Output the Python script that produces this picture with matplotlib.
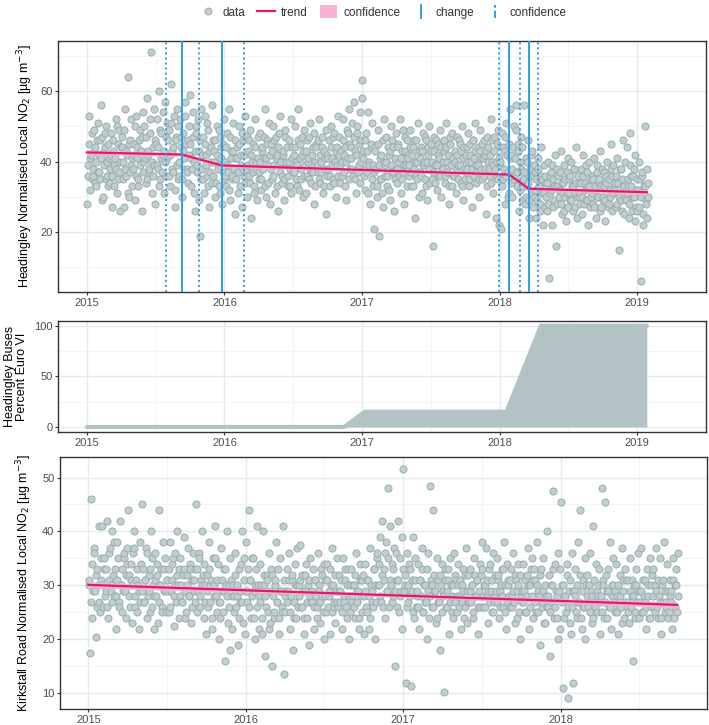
from itertools import zip_longest

import matplotlib
matplotlib.use("Agg")
import matplotlib.pyplot as plt
from matplotlib.legend_handler import HandlerBase
from matplotlib.lines import Line2D
from matplotlib.patches import Patch
import numpy as np

plt.rcParams["font.family"] = ["Liberation Sans", "DejaVu Sans"]

# ---- Headingley daily normalised NO2 (values per month) ----
headingley_2015 = [
    [28, 36, 53, 41, 35, 38, 49, 44, 33, 40, 46, 37, 51],
    [42, 35, 56, 47, 30, 39, 44, 50, 36, 33, 45, 41, 38],
    [34, 48, 27, 43, 39, 52, 31, 45, 37, 49, 40, 26, 44],
    [47, 40, 27, 55, 36, 42, 64, 30, 46, 39, 52, 33, 41],
    [38, 45, 29, 53, 41, 35, 49, 43, 26, 47, 37, 54, 40],
    [50, 34, 58, 42, 37, 48, 71, 31, 44, 39, 55, 28, 46],
    [45, 52, 38, 60, 35, 48, 42, 31, 57, 40, 47, 36, 51],
    [41, 49, 33, 62, 43, 37, 53, 27, 46, 39, 55, 35, 50],
    [36, 52, 44, 30, 48, 41, 57, 38, 46, 34, 50, 42, 59],
    [45, 33, 54, 40, 26, 48, 37, 52, 43, 19, 46, 35, 55],
    [38, 47, 31, 53, 42, 36, 49, 27, 44, 40, 56, 34, 46],
    [36, 43, 30, 50, 39, 33, 47, 41, 28, 45, 37, 52, 35],
]
headingley_2015_more = [
    [39, 45, 32, 42, 48, 36, 43, 34],
    [37, 46, 41, 29, 43, 48, 35, 40],
    [42, 36, 46, 33, 41, 38, 50, 35],
    [44, 35, 49, 38, 43, 31, 45, 37],
    [42, 50, 36, 44, 33, 46, 39, 43],
    [41, 47, 35, 43, 38, 52, 40, 36],
    [39, 44, 33, 49, 41, 37, 54, 43],
    [46, 36, 42, 51, 38, 44, 32, 47],
    [40, 47, 35, 43, 38, 53, 45, 37],
    [41, 38, 47, 31, 43, 50, 39, 29],
    [42, 35, 45, 39, 51, 33, 43, 37],
    [40, 46, 34, 42, 38, 49, 31, 44],
]
headingley_2016 = [
    [40, 33, 48, 37, 55, 29, 43, 36, 51, 38, 25, 46, 41],
    [35, 44, 31, 50, 39, 27, 46, 42, 34, 53, 38, 30, 47],
    [43, 36, 49, 24, 40, 45, 33, 52, 38, 29, 47, 41, 35],
    [37, 48, 32, 44, 41, 55, 30, 46, 39, 34, 51, 28, 42],
    [45, 35, 50, 39, 31, 47, 42, 26, 48, 37, 53, 40, 34],
    [36, 43, 29, 49, 40, 33, 46, 38, 52, 31, 44, 41, 37],
    [42, 50, 35, 39, 55, 32, 45, 38, 47, 30, 43, 36, 49],
    [39, 31, 46, 41, 35, 51, 37, 44, 28, 48, 40, 33, 45],
    [44, 37, 52, 34, 40, 47, 31, 43, 38, 49, 25, 42, 36],
    [38, 46, 33, 50, 41, 35, 48, 30, 44, 39, 53, 36, 42],
    [47, 34, 40, 52, 37, 44, 29, 49, 41, 35, 55, 38, 45],
    [41, 51, 36, 57, 43, 31, 48, 39, 54, 34, 46, 40, 58],
]
headingley_2016_more = [
    [36, 44, 39, 32, 47, 41, 35, 43],
    [41, 37, 45, 33, 42, 48, 38, 36],
    [39, 46, 34, 42, 37, 31, 44, 40],
    [40, 35, 43, 38, 47, 33, 41, 45],
    [38, 43, 36, 46, 41, 33, 44, 39],
    [42, 35, 47, 39, 44, 36, 40, 33],
    [37, 44, 40, 33, 46, 41, 35, 42],
    [43, 36, 40, 47, 38, 34, 42, 37],
    [39, 46, 35, 42, 37, 44, 33, 41],
    [41, 36, 44, 39, 47, 34, 40, 43],
    [39, 43, 36, 46, 42, 33, 40, 48],
    [44, 38, 47, 35, 42, 50, 37, 45],
]
headingley_2017 = [
    [63, 43, 32, 48, 37, 54, 40, 28, 45, 35, 51, 39, 33],
    [21, 44, 38, 30, 49, 19, 41, 35, 46, 27, 40, 52, 36],
    [39, 47, 33, 42, 29, 50, 37, 44, 26, 41, 35, 48, 38],
    [34, 45, 40, 52, 31, 43, 37, 28, 47, 39, 33, 46, 42],
    [41, 36, 49, 33, 44, 38, 24, 46, 40, 35, 51, 30, 43],
    [37, 44, 31, 48, 40, 35, 46, 29, 42, 38, 50, 34, 45],
    [43, 35, 16, 47, 39, 32, 45, 41, 36, 49, 30, 44, 38],
    [40, 46, 34, 51, 37, 42, 28, 45, 39, 33, 48, 36, 41],
    [36, 43, 31, 47, 39, 45, 34, 50, 41, 29, 44, 38, 35],
    [42, 38, 48, 33, 45, 40, 27, 46, 36, 43, 51, 34, 39],
    [37, 44, 30, 49, 41, 35, 46, 38, 25, 43, 33, 47, 40],
    [44, 36, 52, 40, 31, 47, 38, 24, 45, 35, 49, 41, 22],
]
headingley_2017_more = [
    [41, 36, 46, 38, 43, 31, 39, 44],
    [37, 43, 33, 45, 39, 35, 42, 31],
    [40, 36, 44, 32, 43, 39, 46, 37],
    [38, 44, 36, 41, 35, 49, 39, 43],
    [39, 44, 37, 42, 33, 46, 40, 36],
    [41, 36, 43, 39, 47, 33, 40, 44],
    [40, 37, 43, 34, 46, 39, 42, 36],
    [38, 43, 36, 44, 40, 33, 47, 39],
    [40, 37, 42, 35, 46, 39, 43, 33],
    [37, 44, 40, 35, 42, 38, 46, 41],
    [39, 35, 43, 38, 45, 41, 36, 42],
    [38, 42, 34, 46, 39, 43, 36, 40],
]
headingley_2018 = [
    [39, 21, 48, 35, 43, 28, 51, 37, 45, 31, 41, 55, 34],
    [42, 30, 50, 36, 56, 33, 45, 26, 40, 47, 38, 29, 44],
    [35, 56, 28, 41, 33, 46, 24, 38, 31, 43, 27, 36, 39],
    [30, 37, 24, 41, 33, 28, 44, 35, 22, 39, 31, 27, 36],
    [34, 26, 40, 7, 31, 37, 22, 35, 29, 42, 33, 16, 38],
    [28, 36, 32, 43, 25, 34, 39, 30, 23, 37, 31, 41, 27],
    [35, 29, 40, 33, 26, 38, 31, 44, 24, 36, 30, 34, 28],
    [31, 38, 25, 42, 34, 29, 37, 22, 33, 40, 27, 35, 30],
    [36, 28, 41, 32, 24, 39, 30, 35, 43, 27, 33, 38, 29],
    [30, 37, 23, 34, 40, 28, 32, 45, 26, 36, 31, 39, 33],
    [34, 27, 41, 31, 15, 38, 29, 35, 46, 25, 33, 40, 30],
    [29, 44, 33, 24, 48, 36, 30, 38, 23, 42, 32, 27, 35],
]
headingley_2018_more = [
    [40, 33, 44, 38, 47, 36, 42, 30],
    [38, 44, 35, 41, 49, 37, 43, 32],
    [33, 37, 30, 40, 34, 29, 36, 42],
    [32, 35, 29, 38, 33, 26, 36, 31],
    [30, 34, 28, 36, 32, 39, 27, 33],
    [33, 30, 37, 28, 34, 31, 26, 35],
    [31, 36, 29, 33, 38, 27, 34, 30],
    [34, 30, 36, 28, 32, 39, 29, 33],
    [31, 35, 27, 33, 37, 30, 34, 26],
    [33, 29, 36, 31, 27, 35, 30, 38],
    [32, 36, 28, 34, 30, 38, 26, 33],
    [31, 35, 28, 39, 33, 26, 36, 30],
]
headingley_2019 = [
    [26, 40, 31, 6, 36, 22, 33, 50, 28, 38, 24, 34, 30],
]
headingley_2019_more = [
    [32, 27, 35, 30, 37, 25, 33, 29],
]

# trend + confidence (decimal years)
headingley_trend_x = [2015.0, 2015.69, 2015.98, 2018.07, 2018.21, 2019.07]
headingley_trend_y = [42.6, 42.0, 38.9, 36.3, 32.3, 31.3]
headingley_trend_ci = [0.8, 0.5, 0.5, 0.4, 0.5, 0.8]
change_points = [2015.69, 2015.98, 2018.07, 2018.215]
change_ci = [2015.575, 2015.815, 2016.14, 2017.998, 2018.148, 2018.282]

# ---- Headingley buses percent Euro VI ----
buses_x = [2015.0, 2016.87, 2017.02, 2018.05, 2018.30, 2019.07]
buses_pct = [0, 0, 15, 15, 100, 100]

# ---- Kirkstall Road daily normalised NO2 ----
kirkstall_2015 = [
    [30, 17.5, 46, 24, 37, 29, 20.5, 33, 27, 41, 25, 31, 35],
    [41, 26, 33, 29, 42, 24, 36, 30, 27, 40, 32, 38, 28],
    [33, 22, 38, 27, 42, 30, 25, 35, 29, 32, 24, 37, 34],
    [44, 28, 31, 23, 36, 40, 26, 33, 30, 22, 29, 38, 27],
    [34, 45, 27, 31, 37, 24, 29, 33, 40, 26, 35, 30, 22],
    [28, 36, 32, 23, 44, 30, 26, 38, 33, 29, 35, 25, 31],
    [31, 25, 38, 29, 34, 22.5, 36, 27, 40, 30, 24, 33, 28],
    [35, 27, 32, 39, 24, 30, 37, 28, 33, 23, 31, 26, 36],
    [29, 33, 45, 25, 36, 28, 31, 40, 24, 34, 27, 30, 21],
    [32, 26, 38, 30, 22, 35, 28, 41, 25, 31, 34, 27, 20],
    [24, 37, 29, 33, 16, 30, 40, 26, 35, 18, 31, 28, 22],
    [30, 25, 36, 28, 19, 33, 27, 40, 23, 31, 35, 21, 29],
]
kirkstall_2015_more = [
    [31, 27, 34, 29, 36, 32, 26, 30],
    [30, 35, 28, 33, 26, 31, 37, 29],
    [28, 31, 35, 26, 30, 33, 29, 36],
    [32, 26, 34, 30, 37, 28, 31, 25],
    [29, 33, 27, 31, 36, 28, 32, 25],
    [31, 28, 34, 27, 30, 33, 25, 29],
    [29, 33, 26, 31, 35, 28, 30, 32],
    [30, 27, 33, 29, 25, 32, 28, 34],
    [31, 27, 33, 29, 35, 26, 30, 32],
    [29, 33, 27, 31, 24, 30, 35, 28],
    [27, 31, 25, 29, 33, 28, 23, 30],
    [28, 32, 26, 30, 24, 29, 34, 27],
]
kirkstall_2016 = [
    [38, 27, 44, 31, 24, 35, 29, 20, 33, 26, 41, 30, 22],
    [28, 34, 21, 40, 30, 17, 32, 25, 36, 29, 23, 33, 15],
    [32, 24, 30, 38, 27, 21, 35, 29, 25, 41, 31, 13.5, 28],
    [25, 33, 29, 36, 22, 31, 18, 27, 34, 24, 30, 37, 26],
    [30, 37.5, 26, 32, 21, 29, 34, 24, 31, 19, 28, 35, 27],
    [27, 33, 22, 31, 26, 36, 29, 23, 32, 28, 25, 34, 20],
    [31, 25, 34, 28, 21, 30, 37, 26, 32, 23, 29, 35, 27],
    [26, 32, 29, 22, 35, 27, 31, 24, 33, 20, 28, 30, 25],
    [33, 27, 30, 24, 36, 29, 22, 34, 28, 31, 25, 32, 21],
    [28, 34, 25, 31, 22, 37, 29, 26, 33, 20, 30, 27, 35],
    [36, 30, 39, 27, 42, 33, 24, 38, 29, 48, 35, 26, 31],
    [41, 34, 28, 37, 15, 31, 42, 25, 35, 29, 39, 22, 33],
]
kirkstall_2016_more = [
    [29, 33, 26, 31, 28, 35, 24, 30],
    [27, 30, 24, 32, 28, 26, 31, 22],
    [28, 25, 31, 27, 33, 24, 29, 26],
    [29, 27, 31, 25, 28, 32, 24, 30],
    [28, 31, 26, 29, 24, 32, 27, 30],
    [29, 26, 31, 28, 24, 30, 27, 33],
    [28, 31, 26, 29, 33, 25, 30, 27],
    [29, 27, 31, 25, 28, 33, 26, 30],
    [28, 30, 26, 32, 27, 29, 24, 31],
    [29, 26, 31, 28, 24, 30, 27, 33],
    [30, 34, 28, 32, 26, 31, 36, 29],
    [30, 27, 33, 29, 36, 26, 31, 28],
]
kirkstall_2017 = [
    [51.5, 30, 12, 36, 27, 33, 11.3, 29, 39, 24, 31, 35, 26],
    [28, 34, 22, 31, 37, 25, 30, 27, 33, 20, 29, 36, 24],
    [48.5, 31, 26, 44, 29, 23, 35, 27, 32, 18, 30, 34, 25],
    [29, 10.3, 33, 26, 31, 21, 35, 28, 24, 30, 36, 27, 32],
    [31, 25, 34, 28, 22, 30, 33, 26, 37, 29, 23, 32, 27],
    [27, 33, 30, 24, 35, 28, 31, 21, 29, 34, 26, 32, 38],
    [33, 26, 30, 37, 28, 23, 34, 29, 31, 25, 36, 27, 32],
    [28, 35, 31, 24, 29, 33, 26, 38, 30, 22, 34, 27, 31],
    [30, 26, 33, 28, 36, 23, 31, 29, 34, 25, 32, 20, 28],
    [27, 34, 29, 25, 32, 37, 22, 30, 28, 35, 24, 31, 33],
    [31, 25, 38, 29, 19, 33, 27, 35, 23, 30, 28, 40, 26],
    [26, 32, 17, 30, 47.5, 24, 34, 28, 20, 36, 29, 22, 33],
]
kirkstall_2017_more = [
    [29, 32, 26, 30, 34, 28, 31, 25],
    [29, 26, 31, 28, 33, 25, 30, 27],
    [28, 30, 26, 32, 29, 24, 31, 27],
    [28, 31, 26, 29, 33, 27, 30, 25],
    [28, 30, 26, 31, 27, 29, 24, 32],
    [29, 27, 30, 25, 32, 28, 31, 26],
    [28, 30, 26, 31, 29, 33, 27, 25],
    [29, 27, 32, 26, 30, 28, 33, 25],
    [28, 31, 26, 29, 27, 32, 24, 30],
    [29, 27, 31, 25, 28, 30, 26, 33],
    [27, 30, 25, 28, 32, 26, 29, 23],
    [28, 25, 30, 27, 33, 26, 29, 24],
]
kirkstall_2018 = [
    [45.5, 30, 11, 28, 25, 34, 9.1, 31, 21, 36, 26, 12, 29],
    [29, 33, 24, 38, 27, 44, 22, 31, 26, 35, 20, 30, 28],
    [32, 26, 36, 29, 23, 41, 27, 34, 25, 30, 28, 33, 21],
    [27, 48, 31, 24, 45.5, 29, 33, 26, 38, 22, 30, 28, 35],
    [30, 25, 34, 28, 21, 32, 26, 37, 29, 24, 33, 27, 31],
    [26, 31, 23, 35, 28, 16, 30, 25, 33, 27, 36, 29, 24],
    [29, 37, 25, 31, 27, 22, 33, 28, 35, 24, 30, 26, 32],
    [33, 26, 30, 37, 24, 28, 35, 21, 31, 27, 38, 25, 29],
    [27, 34, 24, 31, 29, 22, 35, 26, 30, 33, 25, 28, 36],
]
kirkstall_2018_more = [
    [27, 30, 24, 28, 32, 26, 29, 23],
    [28, 25, 30, 27, 32, 24, 29, 26],
    [27, 30, 25, 28, 24, 31, 26, 29],
    [28, 25, 30, 27, 32, 24, 29, 26],
    [27, 29, 25, 30, 26, 28, 23, 31],
    [27, 25, 29, 26, 31, 28, 24, 30],
    [27, 29, 25, 28, 31, 26, 30, 24],
    [28, 25, 29, 26, 31, 27, 24, 30],
    [26, 29, 25, 28, 27, 31, 24, 30],
]
kirkstall_trend_x = [2015.0, 2016.9, 2018.74]
kirkstall_trend_y = [30.1, 28.2, 26.4]
kirkstall_trend_ci = [0.6, 0.3, 0.6]

years = [2015, 2016, 2017, 2018, 2019]

POINT_FC = "#c0cecf"
POINT_EC = "#9aadae"
TREND = "#e4166e"
BAND = "#f6b3d4"
BLUE = "#2e9fe6"
GRID = "#e4ebed"
GRID_MINOR = "#eff4f5"
TEXT = "#4d4d4d"


def month_points(start_year, pairs):
    """Spread each month's readings across that month (decimal years)."""
    xs, ys = [], []
    k = 0
    for base, extra in pairs:
        for a, b in zip(base, extra):
            vals = [v for pair in zip_longest(a, b) for v in pair if v is not None]
            n = len(vals)
            for i, v in enumerate(vals):
                xs.append(start_year + (k + (i + 0.5) / n) / 12)
                ys.append(v)
            k += 1
    return np.array(xs), np.array(ys)


def style_axes(ax, xlim, ylim, yticks, yminor, xticks):
    ax.set_xlim(*xlim)
    ax.set_ylim(*ylim)
    ax.set_xticks(xticks)
    ax.set_xticklabels([str(y) for y in xticks])
    ax.set_xticks([y + 0.5 for y in xticks], minor=True)
    ax.set_yticks(yticks)
    ax.set_yticks(yminor, minor=True)
    ax.grid(True, which="major", color=GRID, lw=1.0, zorder=0)
    ax.grid(True, which="minor", color=GRID_MINOR, lw=0.6, zorder=0)
    ax.set_axisbelow(True)
    ax.tick_params(which="major", length=2.5, width=0.8, color="#333333",
                   labelsize=8, labelcolor=TEXT, pad=1.5)
    ax.tick_params(which="minor", length=0)
    for s in ax.spines.values():
        s.set_color("#333333")
        s.set_linewidth(1.0)


class VLineHandler(HandlerBase):
    def create_artists(self, legend, orig_handle, xdescent, ydescent,
                       width, height, fontsize, trans):
        x = width / 2 - xdescent
        line = Line2D([x, x], [-ydescent, height - ydescent],
                      color=orig_handle.get_color(),
                      linestyle=orig_handle.get_linestyle(),
                      lw=orig_handle.get_linewidth())
        line.set_transform(trans)
        return [line]


W, H = 709, 725
fig = plt.figure(figsize=(W / 100, H / 100), dpi=100)


def px_axes(left, top, right, bottom):
    return fig.add_axes([left / W, 1 - bottom / H, (right - left) / W, (bottom - top) / H])


# ---------------- top: Headingley ----------------
ax1 = px_axes(58, 41, 706, 292)
hx, hy = month_points(2015.0, [(headingley_2015, headingley_2015_more),
                               (headingley_2016, headingley_2016_more),
                               (headingley_2017, headingley_2017_more),
                               (headingley_2018, headingley_2018_more),
                               (headingley_2019, headingley_2019_more)])
ax1.scatter(hx, hy, s=26, facecolor=POINT_FC, edgecolor=POINT_EC, lw=0.7, zorder=2)
ty = np.array(headingley_trend_y)
tci = np.array(headingley_trend_ci)
ax1.fill_between(headingley_trend_x, ty - tci, ty + tci, color=BAND, alpha=0.8,
                 lw=0, zorder=3)
ax1.plot(headingley_trend_x, ty, color=TREND, lw=1.6, zorder=4)
for c in change_points:
    ax1.axvline(c, color=BLUE, lw=1.4, zorder=5)
for c in change_ci:
    ax1.axvline(c, color=BLUE, lw=1.4, ls=(0, (1, 1.6)), zorder=5)
style_axes(ax1, (2014.79, 2019.28), (3.0, 74.2), [20, 40, 60], [10, 30, 50, 70], years)
ax1.set_ylabel("Headingley Normalised Local NO$_2$ [µg m$^{-3}$]", fontsize=9, color="black")
ax1.yaxis.set_label_coords(-0.036, 0.5)

# ---------------- middle: buses ----------------
ax2 = px_axes(58, 321, 706, 432)
ax2.fill_between(buses_x, 0, buses_pct, color="#b3c3c5", lw=0, zorder=2)
ax2.plot(buses_x, buses_pct, color="#b3c3c5", lw=3, solid_capstyle="round",
         solid_joinstyle="round", zorder=2)
style_axes(ax2, (2014.79, 2019.28), (-5, 104.7), [0, 50, 100], [25, 75], years)
ax2.set_ylabel("Headingley Buses\nPercent Euro VI", fontsize=9, color="black",
               linespacing=0.95)
ax2.yaxis.set_label_coords(-0.047, 0.5)

# ---------------- bottom: Kirkstall Road ----------------
ax3 = px_axes(60, 457, 707, 709)
kx, ky = month_points(2015.0, [(kirkstall_2015, kirkstall_2015_more),
                               (kirkstall_2016, kirkstall_2016_more),
                               (kirkstall_2017, kirkstall_2017_more),
                               (kirkstall_2018, kirkstall_2018_more)])
ax3.scatter(kx, ky, s=26, facecolor=POINT_FC, edgecolor=POINT_EC, lw=0.7, zorder=2)
ky_t = np.array(kirkstall_trend_y)
kci = np.array(kirkstall_trend_ci)
ax3.fill_between(kirkstall_trend_x, ky_t - kci, ky_t + kci, color=BAND, alpha=0.8,
                 lw=0, zorder=3)
ax3.plot(kirkstall_trend_x, ky_t, color=TREND, lw=1.6, zorder=4)
style_axes(ax3, (2014.82, 2018.93), (7.1, 53.8), [10, 20, 30, 40, 50],
           [15, 25, 35, 45], [2015, 2016, 2017, 2018])
ax3.set_ylabel("Kirkstall Road Normalised Local NO$_2$ [µg m$^{-3}$]", fontsize=9, color="black")
ax3.yaxis.set_label_coords(-0.040, 0.5)

# ---------------- legend ----------------
handles = [
    Line2D([], [], marker="o", ls="None", markersize=5, markerfacecolor=POINT_FC,
           markeredgecolor=POINT_EC, markeredgewidth=0.7),
    Line2D([], [], color=TREND, lw=1.6),
    Patch(facecolor=BAND, edgecolor="none"),
    Line2D([], [], color=BLUE, lw=1.4),
    Line2D([], [], color=BLUE, lw=1.4, ls=(0, (1, 1.6))),
]
labels = ["data", "trend", "confidence", "change", "confidence"]
fig.legend(handles, labels, loc="center", bbox_to_anchor=(383 / W, 1 - 12 / H),
           ncol=5, frameon=False, fontsize=8.5, handlelength=1.5, handleheight=1.3,
           columnspacing=1.0, handletextpad=0.5, labelcolor="#333333",
           handler_map={handles[3]: VLineHandler(), handles[4]: VLineHandler()})

fig.savefig("out.png", dpi=100)
